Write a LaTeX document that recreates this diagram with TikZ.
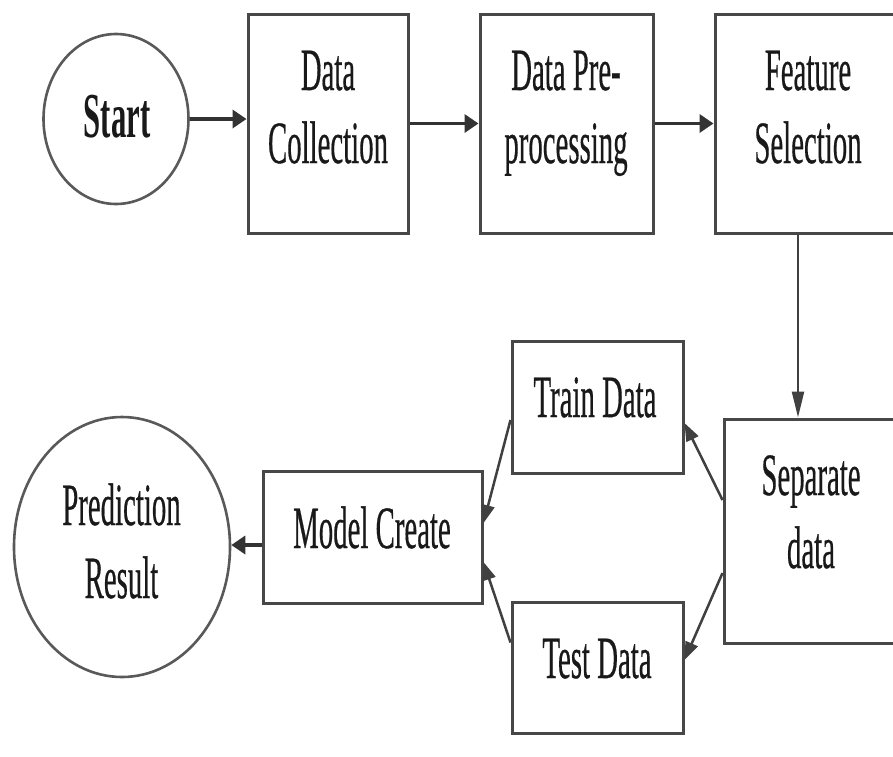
\documentclass[tikz,border=0pt]{standalone}
\usepackage{fontspec}
\setmainfont{Liberation Serif}
\newfontfamily\heavyserif{Liberation Serif}[FakeBold=0.6]
\usetikzlibrary{arrows.meta,shapes.geometric,calc}
\newcommand{\sq}[1]{\scalebox{0.48}[1]{#1}}
\begin{document}
\begin{tikzpicture}[x=1pt,y=-1pt,
  box/.style={draw=black!72, line width=3pt, fill=white, rectangle, inner sep=0pt},
  oval/.style={draw=black!65, line width=2.6pt, ellipse, inner sep=0pt},
  txt/.style={text=black!90, align=center, font=\heavyserif\fontsize{60}{73}\selectfont, inner sep=0pt, anchor=base},
  harr/.style={draw=black!80, line width=3.8pt, -{Triangle[length=14pt,width=18pt]}},
  varr/.style={draw=black!75, line width=2.3pt, -{Triangle[length=26pt,width=12pt]}},
  darr/.style={draw=black!75, line width=2.5pt, -{Triangle[length=18pt,width=13pt]}},
]
\useasboundingbox (0,0) rectangle (893,756);
\clip (0,0) rectangle (893,756);
\fill[white] (0,0) rectangle (893,756);

% shapes
\node[oval, minimum width=145pt, minimum height=170pt] (start) at (116,119) {};
\node[box, minimum width=160pt, minimum height=219pt] (dc) at (328,123.5) {};
\node[box, minimum width=173pt, minimum height=219pt] (dpp) at (566.5,123.5) {};
\node[box, minimum width=186pt, minimum height=219pt] (fs) at (808,123.5) {};
\node[box, minimum width=174pt, minimum height=224pt] (sep) at (811,531) {};
\node[box, minimum width=171pt, minimum height=132pt] (train) at (597.5,407) {};
\node[box, minimum width=171pt, minimum height=131pt] (test) at (597.5,667.5) {};
\node[box, minimum width=219pt, minimum height=132pt] (model) at (372.5,537) {};
\node[oval, minimum width=216pt, minimum height=260pt] (pred) at (122,547) {};

% texts (anchor=base is the baseline of the last line)
\node[txt, font=\fontsize{64}{70}\selectfont\bfseries] (tstart) at (117,137) {\sq{Start}};
\node[txt] (tdc) at (328,163) {\sq{Data}\\\sq{Collection}};
\node[txt] (tdpp) at (566,163) {\sq{Data Pre-}\\\sq{processing}};
\node[txt] (tfs) at (808,163) {\sq{Feature}\\\sq{Selection}};
\node[txt] (ttr) at (595,417) {\sq{Train Data}};
\node[txt] (tte) at (597,678) {\sq{Test Data}};
\node[txt] (tmc) at (372,548) {\sq{Model Create}};
\node[txt] (tsep) at (811,568) {\sq{Separate}\\\sq{data}};
\node[txt] (tpr) at (121.5,598) {\sq{Prediction}\\\sq{Result}};

% connectors
\draw[harr] (start) -- (start -| dc.west);
\draw[harr] (dc.east) -- (dc.east -| dpp.west);
\draw[harr] (dpp.east) -- (dpp.east -| fs.west);
\draw[varr] ([xshift=-10pt]fs.south) -- ([xshift=-10pt]fs.south |- sep.north);
\draw[darr] ([yshift=31pt]sep.west) -- ([yshift=-16pt]train.east);
\draw[darr] ([yshift=-42pt]sep.west) -- ([yshift=7.5pt]test.east);
\draw[darr] ([yshift=-13pt]train.west) -- ([yshift=14pt]model.east);
\draw[darr] ([yshift=25pt]test.west) -- ([yshift=-25pt]model.east);
\draw[harr] ([yshift=-8pt]model.west) -- ([yshift=-8pt]model.west -| pred.east);
\end{tikzpicture}
\end{document}
